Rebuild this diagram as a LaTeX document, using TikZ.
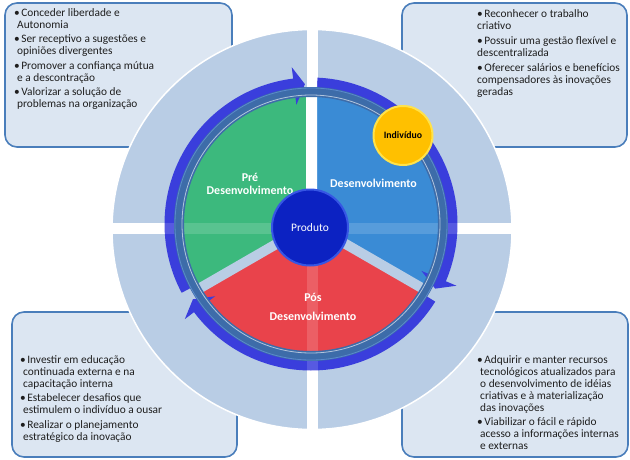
\documentclass[tikz,border=0pt]{standalone}
\usepackage{fontspec}
\setmainfont{Carlito}
\definecolor{boxfill}{HTML}{DCE6F2}
\definecolor{boxline}{HTML}{4A7EBB}
\definecolor{bigblue}{HTML}{B9CDE5}
\definecolor{prepart}{HTML}{3CB97D}
\definecolor{devpart}{HTML}{3A8BD5}
\definecolor{pospart}{HTML}{E9434B}
\definecolor{arrowblue}{HTML}{3A3EDC}
\definecolor{ringblue}{HTML}{3D6CA9}
\definecolor{ringedge}{HTML}{5A8ACB}
\definecolor{prodblue}{HTML}{0C22C2}
\definecolor{prodrim}{HTML}{3656E4}
\definecolor{goldfill}{HTML}{FFC000}
\definecolor{goldrim}{HTML}{FFE24A}
\definecolor{textdark}{HTML}{1E1E1E}
\newcommand{\bul}{\textbullet\hspace{1.5bp}}
\newcommand{\cont}{\hspace*{3bp}}

\begin{document}
\begin{tikzpicture}[x=10bp,y=10bp]
		\tikzstyle{every node}+=[inner sep=0pt]
		\tikzstyle{listbox}=[fill=boxfill, draw=boxline, line width=1.6bp, rounded corners=12bp]
		\tikzstyle{listtext}=[anchor=north west, align=left, text=textdark, font=\fontsize{11.4}{12}\selectfont]
		\tikzstyle{partlabel}=[align=center, text=white, font=\fontsize{12}{13}\selectfont\bfseries]
		\useasboundingbox (0,0) rectangle (63,-46);
		\draw [listbox] (0.5,-0.3) rectangle (23.2,-14.7);
		\draw [listbox] (40.2,-0.3) rectangle (62.7,-14.7);
		\draw [listbox] (1.2,-31.2) rectangle (23.7,-45.7);
		\draw [listbox] (40.2,-31.2) rectangle (62.8,-45.7);
		\fill [bigblue] (31.2,-22.95) circle (20);
		\begin{scope}
			\clip (31.2,-22.95) circle (20);
			\fill [white] (30.65,-2) rectangle (31.75,-44);
			\fill [white] (10,-22.3) rectangle (52,-23.4);
		\end{scope}
		\draw [white, line width=1.5bp] (31.2,-22.95) circle (20);
		\begin{scope}[shift={(31.1,-22.4)}]
			\fill [prepart] (0,0) -- (90:12.8) arc[start angle=90, end angle=210, radius=12.8] -- cycle;
			\fill [devpart] (0,0) -- (-30:12.8) arc[start angle=-30, end angle=90, radius=12.8] -- cycle;
			\fill [pospart] (0,0) -- (210:12.8) arc[start angle=210, end angle=330, radius=12.8] -- cycle;
			\draw [bigblue, line width=10bp] (0,0) -- (210:13.2);
			\draw [bigblue, line width=10bp] (0,0) -- (330:13.2);
			\draw [white, line width=11bp] (0,0) -- (90:13.2);
			\fill [arrowblue] (87.5:14.65) arc[start angle=87.5, end angle=-23, radius=14.65] -- (-23:15.8) -- (-27.5:14) -- (-23:12) -- (-23:13.1) arc[start angle=-23, end angle=87.5, radius=13.1] -- cycle;
			\fill [arrowblue] (-32:14.65) arc[start angle=-32, end angle=-143, radius=14.65] -- (-143:15.8) -- (-147.5:14) -- (-143:12) -- (-143:13.1) arc[start angle=-143, end angle=-32, radius=13.1] -- cycle;
			\fill [arrowblue] (208:14.65) arc[start angle=208, end angle=97, radius=14.65] -- (97:15.8) -- (92.5:14) -- (97:12) -- (97:13.1) arc[start angle=97, end angle=208, radius=13.1] -- cycle;
		\end{scope}
		\begin{scope}
			\clip (31.1,-22.4) circle (14.7);
			\fill [white, opacity=0.15] (30.65,-7) rectangle (31.75,-38);
			\fill [white, opacity=0.15] (16,-22.3) rectangle (46,-23.4);
		\end{scope}
		\fill [ringblue, even odd rule] (31.1,-22.4) circle (13.7) circle (12.7);
		\draw [ringedge, line width=0.8bp] (31.1,-22.4) circle (13.6);
		\draw [white, opacity=0.6, line width=0.8bp] (31.1,-22.4) circle (12.9);
		\draw (25.0,-18.35) node (pre) [partlabel] {Pré\\Desenvolvimento};
		\draw (37.35,-18.33) node (desenv) [partlabel] {Desenvolvimento};
		\draw (31.3,-30.7) node (pos) [partlabel] {Pós\\[6bp]Desenvolvimento};
		\draw [prodrim, fill=prodblue, line width=2bp] (31,-22.75) circle (3.8);
		\draw (31,-22.75) node (produto) [text=white, font=\fontsize{11.5}{13}\selectfont] {Produto};
		\draw [goldrim, fill=goldfill, line width=2bp] (40.3,-13.55) circle (2.95);
		\draw (40.3,-13.55) node (individuo) [text=black, font=\fontsize{9.8}{11}\selectfont\bfseries] {Indivíduo};
		\draw (1.4,-0.85) node (conceder) [listtext] {\bul Conceder liberdade e\\\cont Autonomia\\[2.5bp]\bul Ser receptivo a sugestões e\\\cont opiniões divergentes\\[2.5bp]\bul Promover a confiança mútua\\\cont e a descontração\\[2.5bp]\bul Valorizar a solução de\\\cont problemas na organização};
		\draw (47.7,-0.95) node (reconhecer) [listtext] {\bul Reconhecer o trabalho\\criativo\\[3bp]\bul Possuir uma gestão flexível e\\descentralizada\\[3bp]\bul Oferecer salários e benefícios\\compensadores às inovações\\geradas};
		\draw (2.0,-35.55) node (investir) [listtext] {\bul Investir em educação\\\cont continuada externa e na\\\cont capacitação interna\\[2.5bp]\bul Estabelecer desafios que\\\cont estimulem o indivíduo a ousar\\[2.5bp]\bul Realizar o planejamento\\\cont estratégico da inovação};
		\draw (47.7,-35.55) node (adquirir) [listtext] {\bul Adquirir e manter recursos\\\cont tecnológicos atualizados para\\\cont o desenvolvimento de idéias\\\cont criativas e à materialização\\\cont das inovações\\[2.5bp]\bul Viabilizar o fácil e rápido\\\cont acesso a informações internas\\\cont e externas};
	\end{tikzpicture}
\end{document}
